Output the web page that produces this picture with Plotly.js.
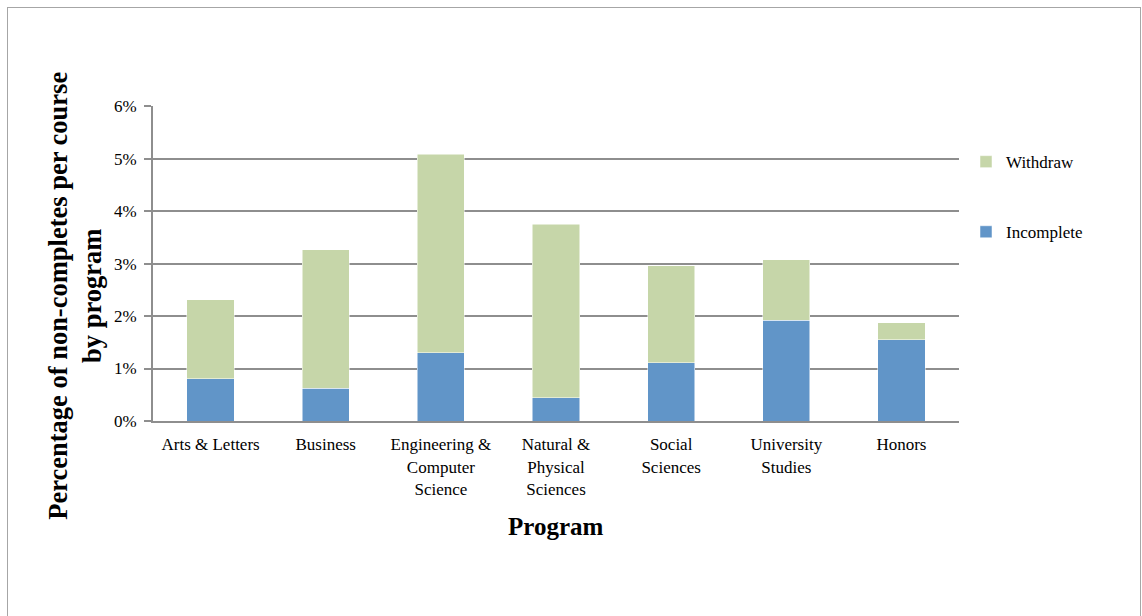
<!DOCTYPE html>
<html>
<head>
<meta charset="utf-8">
<script src="https://cdn.plot.ly/plotly-3.0.1.min.js"></script>
<style>
html,body{margin:0;padding:0;background:#fff;}
#frame{position:absolute;left:7px;top:7px;width:1134px;height:620px;border:1px solid #a6a6a6;box-sizing:border-box;}
#chart{position:absolute;left:0;top:0;width:1142px;height:616px;}
</style>
</head>
<body>
<div id="frame"></div>
<div id="chart"></div>
<script>
const categories = ["Arts & Letters", "Business", "Engineering &<br>Computer<br>Science", "Natural &<br>Physical<br>Sciences", "Social<br>Sciences", "University<br>Studies", "Honors"];
const incomplete = [0.81, 0.62, 1.30, 0.44, 1.11, 1.92, 1.55];
const withdraw = [1.50, 2.64, 3.78, 3.31, 1.85, 1.15, 0.32];
const yTickVals = [0, 1, 2, 3, 4, 5, 6];
const yTickText = ["0%", "1%", "2%", "3%", "4%", "5%", "6%"];

const serif = "'Liberation Serif', 'Times New Roman', serif";

const traces = [
  {type: "bar", name: "Incomplete", x: categories, y: incomplete,
   marker: {color: "#6195c8", line: {color: "#ffffff", width: 0.5}}, legendgroup: "a", legendrank: 2, hoverinfo: "none"},
  {type: "bar", name: "Withdraw", x: categories, y: withdraw,
   marker: {color: "#c6d6a9", line: {color: "#ffffff", width: 0.5}}, legendgroup: "b", legendrank: 1, hoverinfo: "none"}
];

const layout = {
  width: 1142, height: 616,
  paper_bgcolor: "rgba(0,0,0,0)", plot_bgcolor: "rgba(0,0,0,0)",
  margin: {l: 153, r: 183, t: 106, b: 195},
  barmode: "stack",
  bargap: 0.59,
  showlegend: true,
  legend: {x: 1.0087, xref: "paper", y: 0.879, xanchor: "left", yanchor: "top", traceorder: "grouped", tracegroupgap: 45,
           font: {family: serif, size: 17, color: "#000"}, itemwidth: 30},
  xaxis: {type: "category", showgrid: false, showline: true, linecolor: "#8e8e8e", linewidth: 2,
          ticks: "", ticklabelstandoff: 7, tickfont: {family: serif, size: 17, color: "#000"}, fixedrange: true},
  yaxis: {range: [0, 6.004], tickvals: yTickVals, ticktext: yTickText, showgrid: true, gridcolor: "#8e8e8e", gridwidth: 2,
          showline: true, linecolor: "#8e8e8e", linewidth: 2, ticks: "outside", ticklen: 7, tickcolor: "#8e8e8e", tickwidth: 2,
          ticklabelstandoff: 4, zeroline: false, tickfont: {family: serif, size: 17, color: "#000"}, fixedrange: true},
  annotations: [
    {text: "Percentage of non-completes per course<br>by program", xref: "paper", yref: "paper",
     x: -0.097, y: 0.397, xanchor: "center", yanchor: "middle", textangle: -90, showarrow: false,
     font: {family: serif, size: 26.5, color: "#000", weight: "bold"}},
    {text: "Program", xref: "paper", yref: "paper", x: 0.5, y: -0.336, xanchor: "center", yanchor: "middle",
     showarrow: false, font: {family: serif, size: 25, color: "#000", weight: "bold"}}
  ]
};

Plotly.newPlot("chart", traces, layout, {displayModeBar: false, staticPlot: true});
</script>
</body>
</html>
